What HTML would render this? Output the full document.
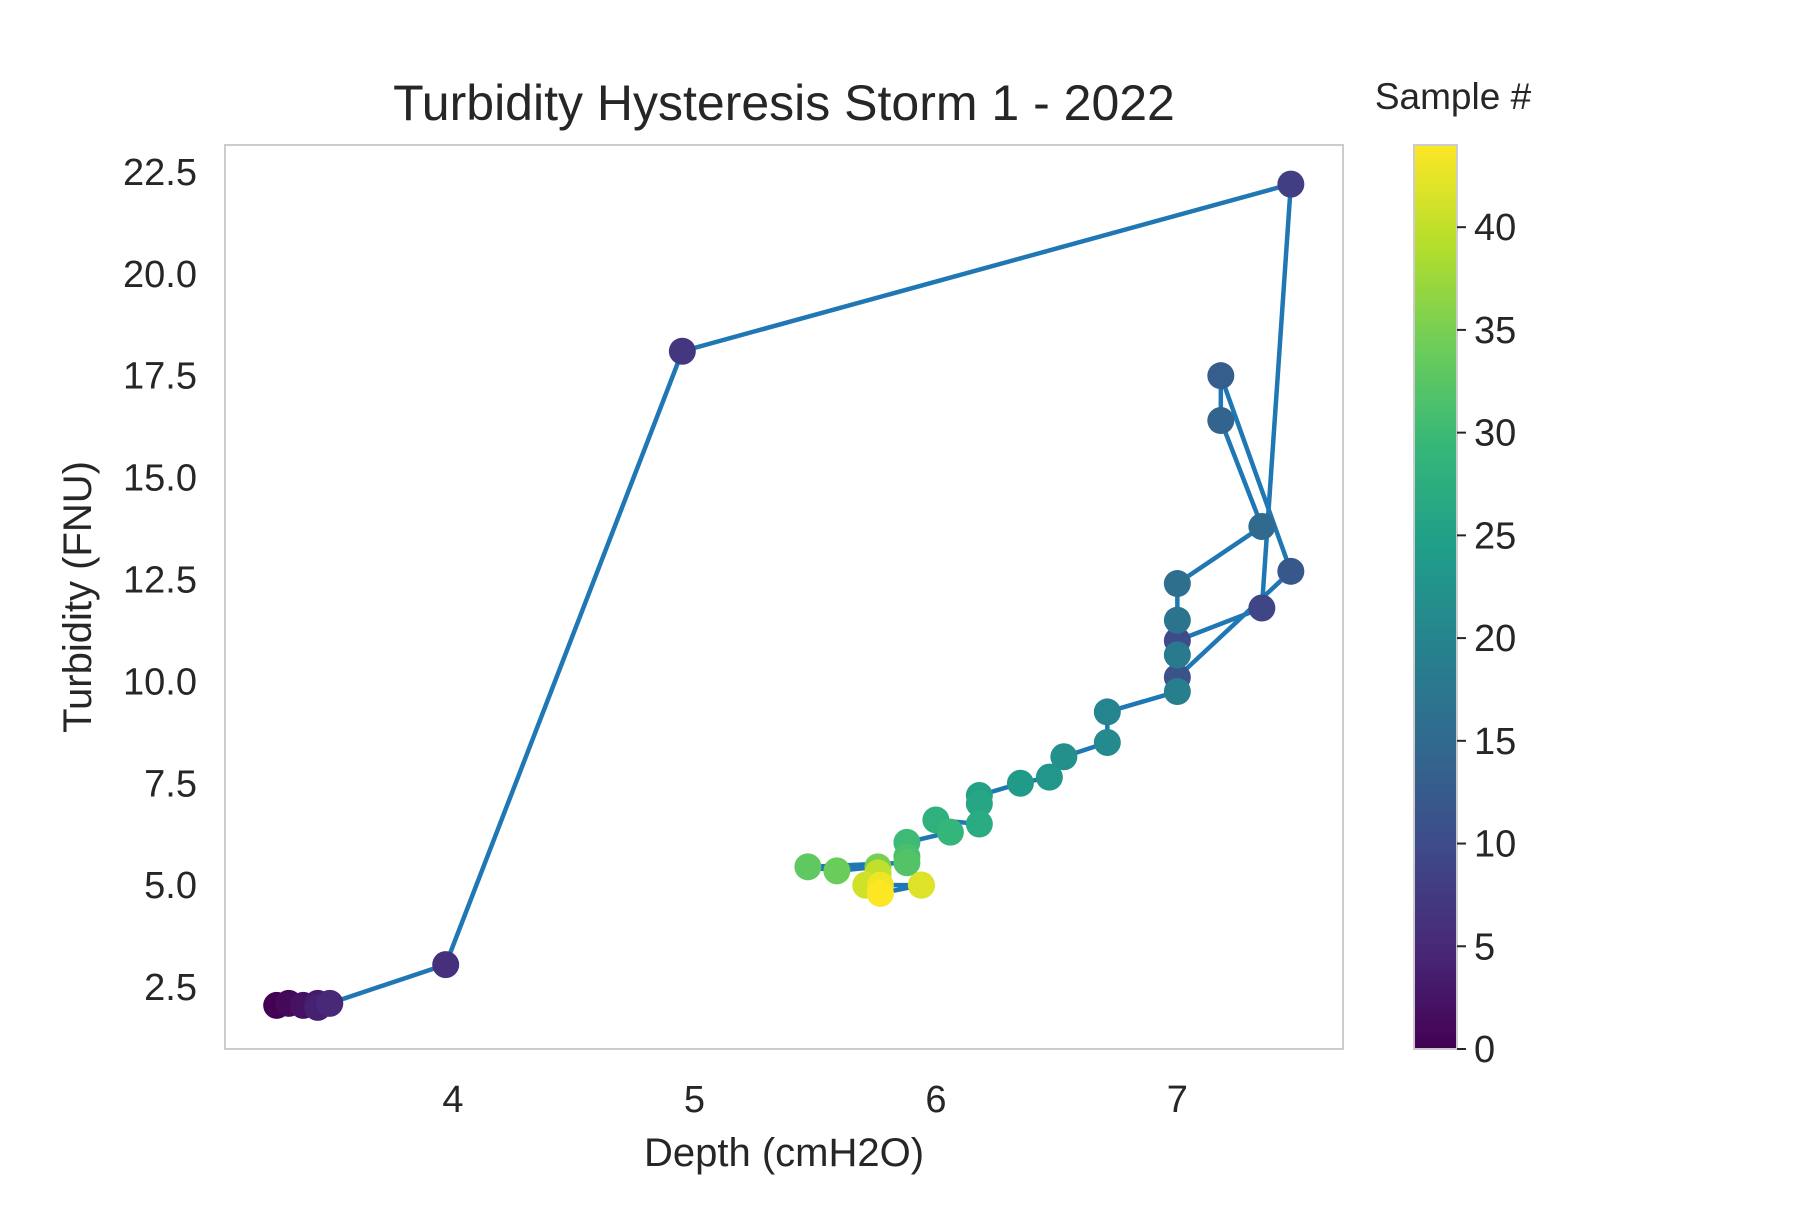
<!DOCTYPE html>
<html><head><meta charset="utf-8"><style>
body{margin:0;background:#fff}
svg text{font-family:"Liberation Sans",sans-serif;fill:#262626}
</style></head><body>
<svg id="chart" width="1800" height="1200" viewBox="0 0 1800 1200" xmlns="http://www.w3.org/2000/svg">
<rect width="1800" height="1200" fill="#fff"/>
<text x="784" y="120" font-size="50" text-anchor="middle">Turbidity Hysteresis Storm 1 - 2022</text>
<rect x="225" y="145" width="1118" height="904" fill="none" stroke="#cccccc" stroke-width="2"/>
<g id="xticks"></g>
<g id="yticks"></g>
<text x="784" y="1166" font-size="40" text-anchor="middle">Depth (cmH2O)</text>
<text x="0" y="0" font-size="40" text-anchor="middle" transform="translate(91,597) rotate(-90)">Turbidity (FNU)</text>
<g id="series"></g>
<defs><linearGradient id="vir" x1="0" y1="1" x2="0" y2="0"></linearGradient></defs>
<text x="1453" y="109" font-size="37" text-anchor="middle">Sample #</text>
<rect x="1414" y="145" width="43" height="904" fill="url(#vir)" stroke="#cccccc" stroke-width="2"/>
<g id="cticks"></g>
</svg>
<script>
const depth=[3.27,3.32,3.38,3.44,3.44,3.49,3.97,4.95,7.47,7.35,7.0,7.0,7.47,7.18,7.18,7.35,7.0,7.0,7.0,7.0,6.71,6.71,6.53,6.47,6.35,6.18,6.18,6.18,6.0,6.06,5.88,5.88,5.88,5.47,5.59,5.76,5.76,5.71,5.94,5.77,5.76,5.71,5.94,5.77,5.77];
const turbidity=[2.05,2.1,2.05,2.1,2.0,2.1,3.05,18.1,22.2,11.8,11.0,10.1,12.7,17.5,16.4,13.8,12.4,11.5,10.65,9.75,9.25,8.5,8.15,7.65,7.5,7.2,7.0,6.5,6.6,6.3,6.05,5.7,5.55,5.45,5.35,5.45,5.25,5.0,5.0,4.8,5.3,5.0,5.0,5.0,4.8];
const xTicks=[4,5,6,7];
const yTicks=[2.5,5.0,7.5,10.0,12.5,15.0,17.5,20.0,22.5];
const cTicks=[0,5,10,15,20,25,30,35,40];
const NS="http://www.w3.org/2000/svg";
const X0=225,X1=1343,XMIN=3.056,XMAX=7.686;
const Y0=1049,Y1=145,YMIN=0.98,YMAX=23.16;
const CMAX=44;
const xs=v=>X0+(v-XMIN)/(XMAX-XMIN)*(X1-X0);
const ys=v=>Y0-(v-YMIN)/(YMAX-YMIN)*(Y0-Y1);
const cs=v=>1049-v/CMAX*904;
const vir=[[68,1,84],[72,40,120],[62,74,137],[49,104,142],[38,130,142],[31,158,137],[53,183,121],[109,205,89],[180,222,44],[253,231,37]];
function color(t){t=Math.max(0,Math.min(1,t));const p=t*(vir.length-1),i=Math.min(Math.floor(p),vir.length-2),f=p-i;const c=vir[i].map((a,k)=>Math.round(a+(vir[i+1][k]-a)*f));return `rgb(${c})`;}
function mk(tag,attrs,parent){const e=document.createElementNS(NS,tag);for(const k in attrs)e.setAttribute(k,attrs[k]);parent.appendChild(e);return e;}
const g=document.getElementById('vir');
vir.forEach((c,i)=>mk('stop',{offset:i/(vir.length-1),'stop-color':`rgb(${c})`},g));
const xt=document.getElementById('xticks');
xTicks.forEach(v=>{const t=mk('text',{x:xs(v),y:1112,'font-size':38,'text-anchor':'middle'},xt);t.textContent=v;

});
const yt=document.getElementById('yticks');
yTicks.forEach(v=>{const t=mk('text',{x:197,y:ys(v)+13,'font-size':38,'text-anchor':'end'},yt);t.textContent=v.toFixed(1);

});
const ct=document.getElementById('cticks');
cTicks.forEach(v=>{const l=mk('line',{x1:1457,x2:1466,y1:cs(v),y2:cs(v),stroke:'#262626','stroke-width':2},ct);


const t=mk('text',{x:1474,y:cs(v)+13,'font-size':38},ct);t.textContent=v;

});
const s=document.getElementById('series');
const pl=mk('polyline',{points:depth.map((d,i)=>xs(d)+','+ys(turbidity[i])).join(' '),fill:'none',stroke:'#1f77b4','stroke-width':4.5,'stroke-linejoin':'round'},s);


depth.forEach((d,i)=>{const c=mk('circle',{cx:xs(d),cy:ys(turbidity[i]),r:13.5,fill:color(i/CMAX)},s);

});
</script>
</body></html>
